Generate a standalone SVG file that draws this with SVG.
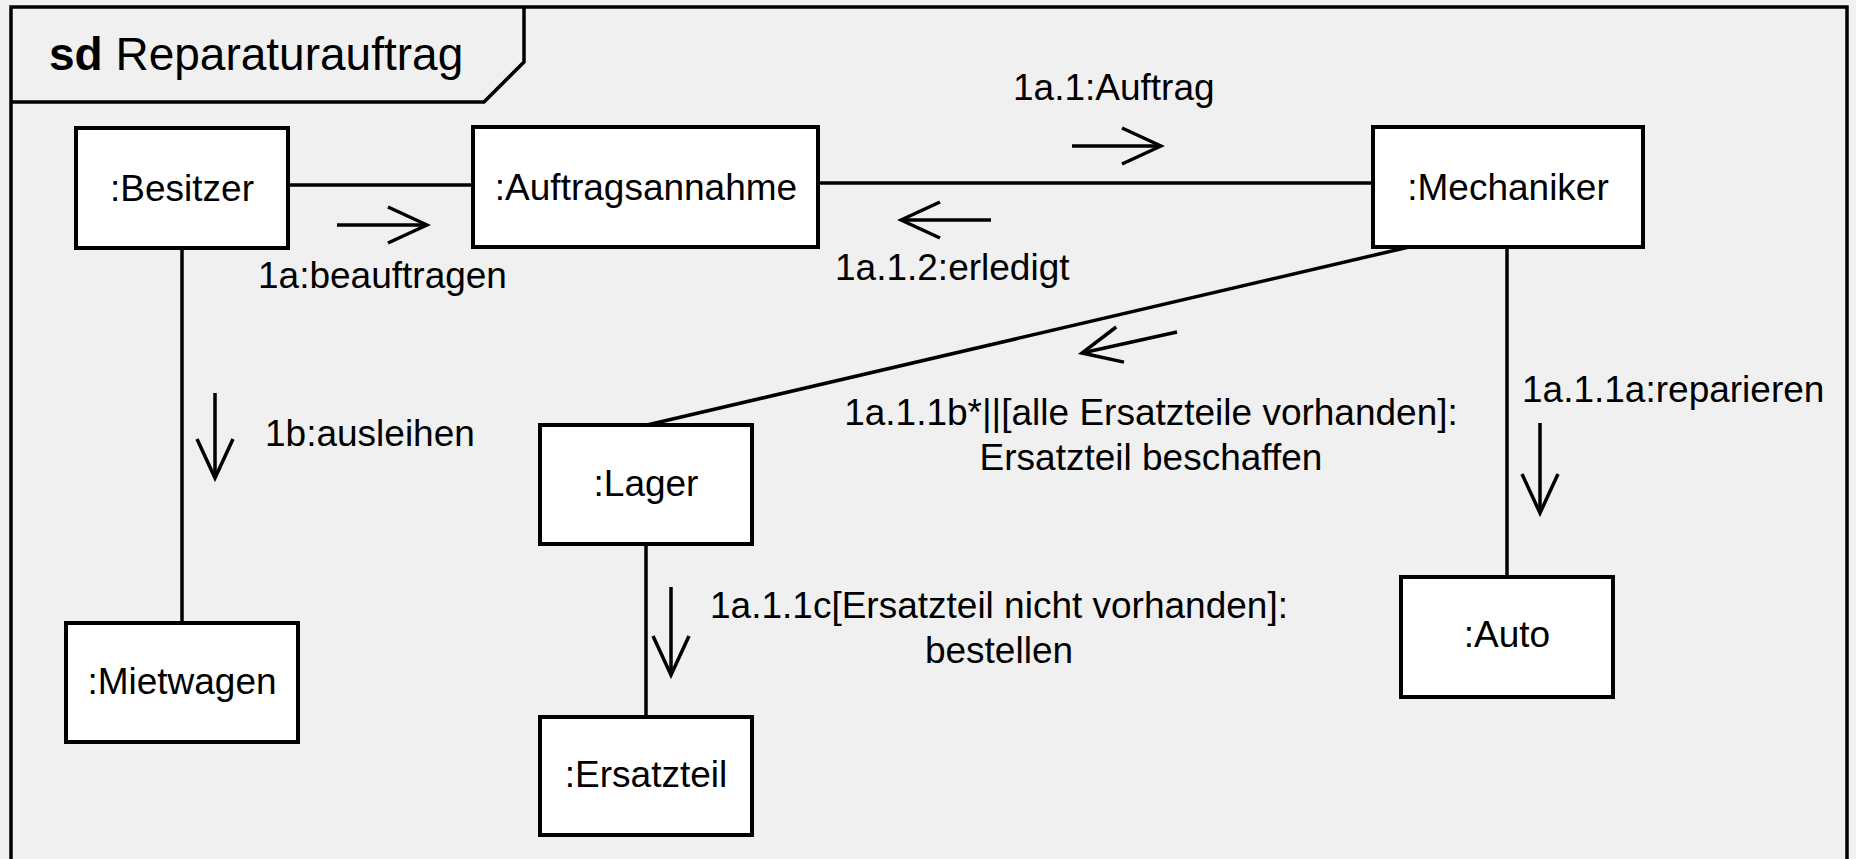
<svg xmlns="http://www.w3.org/2000/svg" width="1856" height="859" viewBox="0 0 1856 859">
<style>
.box{fill:#ffffff;stroke:#000000;stroke-width:4}
.ln{fill:none;stroke:#000000;stroke-width:3.5}
.msg{fill:none;stroke:#000000;stroke-width:3.5;marker-end:url(#open)}
text{font-family:"Liberation Sans",Arial,sans-serif;font-size:37px;fill:#000000}
.c{text-anchor:middle}
</style>
<defs>
<marker id="open" markerUnits="userSpaceOnUse" viewBox="-44 -22 48 44" markerWidth="48" markerHeight="44" refX="0" refY="0" orient="auto">
<path d="M-39,-18 L0,0 L-39,18" fill="none" stroke="#000000" stroke-width="3.5"/>
</marker>
</defs>
<rect x="0" y="0" width="1856" height="859" fill="#f0f0f0"/>
<g id="frame">
<path class="ln" d="M11,880 V7 H1847 V880"/>
<path class="ln" d="M11,102 H484 L524,62 V7"/>
<text x="49" y="70" style="font-size:46px"><tspan font-weight="bold">sd</tspan> Reparaturauftrag</text>
</g>
<g id="connectors">
<line class="ln" x1="288" y1="185" x2="473" y2="185"/>
<line class="ln" x1="818" y1="183" x2="1373" y2="183"/>
<line class="ln" x1="182" y1="248" x2="182" y2="623"/>
<line class="ln" x1="1409" y1="247" x2="647" y2="425"/>
<line class="ln" x1="646" y1="544" x2="646" y2="717"/>
<line class="ln" x1="1507" y1="247" x2="1507" y2="577"/>
<line class="msg" x1="337" y1="225" x2="427" y2="225"/>
<line class="msg" x1="1072" y1="146" x2="1161" y2="146"/>
<line class="msg" x1="991" y1="220" x2="901" y2="220"/>
<line class="msg" x1="215" y1="393" x2="215" y2="478"/>
<line class="msg" x1="671" y1="587" x2="671" y2="675"/>
<line class="msg" x1="1540" y1="423" x2="1540" y2="513"/>
<line class="msg" x1="1177" y1="332" x2="1082" y2="353"/>
<text x="258" y="288">1a:beauftragen</text>
<text x="265" y="446">1b:ausleihen</text>
<text x="1013" y="100">1a.1:Auftrag</text>
<text x="835" y="280">1a.1.2:erledigt</text>
<text class="c" x="1151" y="425">1a.1.1b*||[alle Ersatzteile vorhanden]:</text>
<text class="c" x="1151" y="470">Ersatzteil beschaffen</text>
<text class="c" x="999" y="618">1a.1.1c[Ersatzteil nicht vorhanden]:</text>
<text class="c" x="999" y="663">bestellen</text>
<text x="1522" y="402">1a.1.1a:reparieren</text>
</g>
<g id="besitzer">
<rect class="box" x="76" y="128" width="212" height="120"/>
<text class="c" x="182" y="201">:Besitzer</text>
</g>
<g id="auftragsannahme">
<rect class="box" x="473" y="127" width="345" height="120"/>
<text class="c" x="646" y="200">:Auftragsannahme</text>
</g>
<g id="mechaniker">
<rect class="box" x="1373" y="127" width="270" height="120"/>
<text class="c" x="1508" y="200">:Mechaniker</text>
</g>
<g id="mietwagen">
<rect class="box" x="66" y="623" width="232" height="119"/>
<text class="c" x="182" y="694">:Mietwagen</text>
</g>
<g id="lager">
<rect class="box" x="540" y="425" width="212" height="119"/>
<text class="c" x="646" y="496">:Lager</text>
</g>
<g id="ersatzteil">
<rect class="box" x="540" y="717" width="212" height="118"/>
<text class="c" x="646" y="787">:Ersatzteil</text>
</g>
<g id="auto">
<rect class="box" x="1401" y="577" width="212" height="120"/>
<text class="c" x="1507" y="647">:Auto</text>
</g>
</svg>
